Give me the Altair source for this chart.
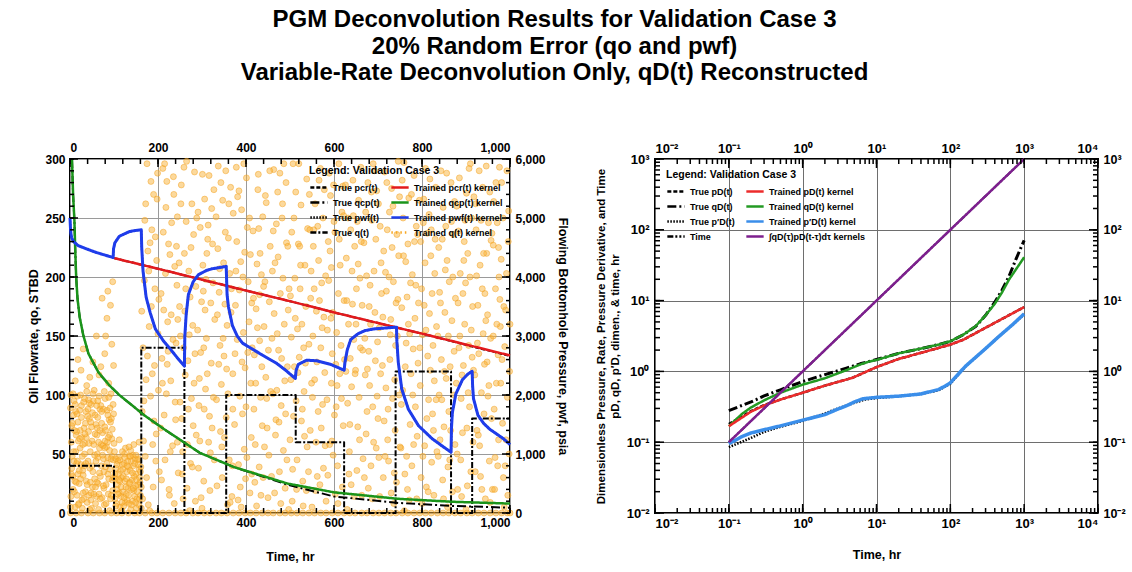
import altair as alt
import pandas as pd

FONT = "Liberation Sans"

# ---------------- LEFT PANEL DATA ----------------
# True q(t) rate schedule, STBD
qtrue_t = [0, 100, 100, 162, 162, 260, 260, 355, 355, 513, 513, 623, 623, 740, 740, 866, 866, 914, 914, 1000]
qtrue_v = [40, 40, 0, 0, 140, 140, 0, 0, 100, 100, 60, 60, 0, 0, 120, 120, 0, 0, 80, 80]

# q_cp(t): trained kernel and true
qcp_t = [4.5, 7, 10, 12, 14, 17, 22, 30, 42, 65, 90, 112, 142, 168, 218, 295, 372, 494, 600, 747, 870, 1000]
qcp_trained = [300, 270, 248, 222, 200, 182, 166, 151, 135, 119, 108, 100, 91, 83, 70, 51, 39, 25, 17.5, 12, 9.5, 8]
qcp_true = [300, 270, 248, 222, 200, 182, 166, 151, 135, 119, 108, 100, 91, 83, 70, 51, 39, 24, 14, 8.5, 6, 4.5]

# p_cr(t), psia
pcr_t = [100, 200, 300, 400, 500, 600, 700, 800, 900, 1000]
pcr_trained = [4320, 4140, 3955, 3770, 3590, 3400, 3220, 3040, 2855, 2670]
pcr_true = [4320, 4140, 3955, 3770, 3590, 3400, 3220, 3040, 2850, 2660]

# p_wf(t), psia
pwf_t = [0, 1, 2, 4, 8, 19, 40, 58, 80, 98, 99, 102, 112, 135, 150, 162,
         163, 166, 173, 182, 194, 212, 230, 245, 260,
         261, 264, 269, 280, 292, 310, 323, 340, 355,
         357, 360, 369, 380, 392, 423, 450, 469, 490, 512,
         514, 519, 538, 561, 592, 623,
         625, 630, 638, 655, 670, 690, 708, 742,
         743, 746, 754, 769, 792, 823, 845, 866,
         867, 869, 877, 892, 905, 914,
         915, 917, 927, 940, 954, 985, 1000]
pwf_trained = [5000, 4840, 4740, 4660, 4600, 4530, 4470, 4420, 4370, 4330, 4480, 4580, 4690, 4770, 4790, 4800,
               4500, 4100, 3660, 3400, 3120, 2920, 2760, 2620, 2490,
               3000, 3360, 3700, 3920, 4040, 4110, 4140, 4160, 4180,
               3700, 3500, 3180, 3000, 2880, 2740, 2620, 2540, 2420, 2280,
               2420, 2520, 2590, 2580, 2520, 2420,
               2560, 2760, 2940, 3040, 3090, 3120, 3130, 3150,
               2900, 2560, 2100, 1760, 1480, 1260, 1140, 1030,
               1440, 1700, 2020, 2260, 2360, 2400,
               2160, 1940, 1660, 1520, 1420, 1260, 1160]
pwf_true = list(pwf_trained)

# Trained q(t) kernel scatter (t hr, q STBD)
dots_early = [(2,14),(5,48),(8,83),(11,27),(14,66),(17,99),(20,8),(23,55),(26,91),(29,36),(32,72),(35,18),(38,103),
              (41,44),(44,80),(47,11),(50,61),(53,95),(56,29),(59,75),(62,50),(65,3),(68,88),(71,40),(74,68),(77,21),
              (80,97),(83,56),(86,33),(89,79),(92,12),(95,63),(98,45),
              (3,60),(6,31),(9,95),(12,5),(15,42),(18,77),(21,25),(24,100),(27,64),(30,17),(33,50),(36,86),(39,9),
              (42,69),(45,38),(48,92),(51,22),(54,58),(57,83),(60,14),(63,47),(66,99),(69,31),(72,76),(75,57),(78,7),
              (81,39),(84,87),(87,16),(90,66),(93,101),(96,28),(99,84),
              (1,89),(4,38),(7,20),(10,70),(13,52),(16,15),(19,61),(22,87),(25,41),(28,4),(31,94),(34,59),(37,27),
              (40,82),(43,15),(46,52),(49,73),(52,35),(55,104),(58,8),(61,66),(64,25),(67,55),(70,91),(73,13),(76,46),
              (79,73),(82,24),(85,60),(88,98),(91,37),(94,80),(97,19),(100,59),
              (4,74),(9,44),(13,86),(18,33),(23,70),(27,11),(32,40),(37,64),(42,96),(46,26),(51,85),(56,49),(61,91),
              (66,16),(71,58),(76,88),(81,70),(86,47),(91,89),(96,71),(7,101),(21,36),(35,76),(49,4),(63,81),(77,35),(90,2),
              (1,5),(3,33),(6,76),(8,52),(10,18),(12,92),(15,69),(17,44),(19,7),(22,63),(24,29),(26,81),(28,48),(31,12),
              (33,97),(34,67),(36,42),(39,24),(41,88),(43,59),(45,3),(47,77),(50,40),(52,101),(54,16),(57,67),(59,44),
              (61,26),(63,95),(65,60),(67,34),(69,12),(72,86),(74,49),(76,23),(78,103),(80,61),(82,8),(84,42),(86,83),
              (88,29),(90,53),(92,77),(94,15),(96,48),(98,92),(99,30),(2,100),(14,26),(29,58),(44,93),(58,22),(62,72),
              (79,55),(87,64),(93,46),(16,84),(30,32),(48,17),(68,70),
              (12,112),(25,121),(38,108),(52,128),(66,117),(79,135),(88,110),(95,143),(30,139),(60,150),(84,165),
              (73,182),(92,176),(97,196),(81,150),(45,115),(70,124),(99,125),(86,188),(18,130)]
dots_mid = [(102,12),(105,38),(108,24),(111,47),(114,5),(117,30),(120,18),(123,42),(126,9),(129,35),(132,21),(135,48),
            (138,3),(141,28),(144,40),(147,14),(150,33),(153,45),(156,7),(159,26),(161,39),
            (103,29),(106,8),(109,44),(112,17),(115,36),(118,2),(121,31),(124,50),(127,22),(130,11),(133,39),(136,26),
            (139,44),(142,10),(145,19),(148,46),(151,4),(154,24),(157,37),(160,15),
            (104,46),(107,20),(110,33),(113,27),(116,14),(119,41),(122,6),(125,27),(128,16),(131,44),(134,8),(137,36),
            (140,20),(143,49),(146,31),(149,23),(152,12),(155,41),(158,30),(162,22),
            (101,52),(126,55),(145,58),(112,62),(138,53),(157,60),
            (102,33),(104,6),(107,41),(109,16),(111,28),(113,45),(116,22),(118,9),(120,37),(123,13),(125,47),(128,29),
            (130,40),(133,15),(135,25),(137,48),(140,7),(142,34),(144,21),(147,42),(149,9),(151,28),(153,18),(156,46),
            (158,12),(160,35),(162,4),(119,52),(134,56),(150,49)]
dots_late = [(165,12),(171,48),(168,95),(176,133),(163,171),(179,205),(170,248),(184,281),(189,22),(196,67),(187,118),
             (200,152),(193,190),(182,229),(198,266),(175,296),(191,78),(166,140),(203,35),(185,175),(197,214),(172,262),
             (188,58),(201,104),(178,7),
             (208,28),(214,83),(221,126),(230,168),(238,209),(244,251),(211,292),(226,15),(233,57),(219,101),(241,144),
             (207,186),(224,228),(236,270),(216,45),(229,112),(243,193),(212,238),(235,285),(222,162),(240,79),(209,131),
             (227,219),(246,34),(218,259),
             (250,94),(258,140),(266,21),(273,183),(281,236),(287,66),(253,278),(262,117),(270,205),(279,159),(285,10),
             (256,52),(264,247),(276,97),(283,289),(249,175),(268,129),(260,220),(286,192),(274,42),(252,262),(280,74),
             (265,298),(271,151),(257,12),
             (292,38),(299,179),(305,88),(313,232),(321,127),(327,274),(295,61),(302,210),(310,148),(318,19),(325,195),
             (291,255),(308,105),(316,286),(323,72),(297,136),(314,244),(329,164),(300,4),(311,220),(319,51),(294,114),
             (306,266),(326,98),(303,188),
             (334,23),(341,142),(347,265),(355,81),(363,203),(370,118),(337,294),(345,56),(352,177),(360,233),(368,14),
             (333,96),(349,212),(357,159),(365,276),(339,187),(344,109),(362,45),(371,254),(336,224),(350,133),(358,7),
             (366,170),(342,69),(354,290),
             (376,176),(383,41),(390,257),(398,123),(405,196),(412,64),(379,230),(386,99),(394,153),(401,284),(409,17),
             (375,135),(388,213),(396,54),(403,242),(411,110),(381,268),(392,84),(399,29),(407,162),(378,293),(385,189),
             (397,221),(414,140),(389,5),
             (418,88),(425,211),(431,146),(439,30),(446,263),(453,179),(421,58),(428,287),(436,124),(443,196),(450,13),
             (416,239),(433,98),(441,158),(448,72),(455,226),(423,173),(430,39),(438,251),(445,115),(419,134),(427,274),
             (435,202),(452,49),(424,6),
             (460,205),(467,66),(474,138),(482,250),(489,21),(496,172),(463,291),(470,104),(478,186),(485,53),(492,229),
             (459,148),(465,17),(472,272),(480,91),(487,160),(494,124),(462,239),(476,35),(484,199),(491,280),(468,79),
             (497,3),(473,217),(488,112),
             (502,113),(509,250),(516,45),(523,190),(531,140),(538,283),(505,10),(512,165),(519,228),(526,78),(534,210),
             (500,62),(507,296),(514,95),(521,132),(529,27),(536,175),(504,238),(511,199),(525,261),(532,103),(539,56),
             (517,156),(530,6),(508,82),
             (544,270),(551,98),(558,19),(565,214),(573,157),(580,57),(547,182),(554,240),(561,128),(569,292),(576,38),
             (543,143),(550,5),(557,262),(564,86),(572,195),(579,119),(546,70),(553,226),(560,171),(568,24),(575,250),
             (581,201),(549,110),(566,282),
             (586,32),(593,165),(600,247),(607,108),(614,210),(621,74),(589,288),(596,135),(603,16),(610,186),(618,255),
             (584,96),(591,222),(598,49),(606,153),(613,118),(620,277),(588,197),(595,61),(602,238),(609,8),(616,142),
             (623,180),(592,269),(605,90),
             (628,216),(635,52),(642,177),(649,121),(656,265),(663,15),(631,93),(638,240),(645,147),(652,36),(659,199),
             (626,278),(633,160),(640,107),(647,226),(654,73),(661,293),(630,3),(637,131),(644,252),(651,190),(658,62),
             (665,138),(639,24),(655,211),
             (670,148),(677,280),(684,40),(691,205),(698,99),(705,243),(673,67),(680,175),(687,12),(694,129),(701,262),
             (668,229),(675,86),(682,193),(689,296),(696,55),(703,157),(671,117),(678,21),(686,248),(693,170),(700,80),
             (707,212),(679,137),(697,273),
             (712,30),(719,188),(726,255),(733,97),(740,142),(747,218),(715,289),(722,62),(729,164),(736,8),(743,236),
             (710,125),(717,204),(724,44),(731,275),(738,113),(745,181),(714,78),(721,240),(728,151),(735,196),(742,26),
             (749,268),(718,106),(732,225),
             (754,174),(761,33),(768,228),(775,118),(782,286),(789,65),(757,250),(764,144),(771,11),(778,202),(785,90),
             (752,55),(759,297),(766,183),(773,75),(780,139),(787,243),(756,104),(763,213),(770,267),(777,40),(784,165),
             (791,127),(760,2),(774,195),
             (796,108),(803,246),(810,22),(817,169),(824,84),(831,276),(799,190),(806,57),(813,133),(820,218),(827,15),
             (794,265),(801,151),(808,292),(815,96),(822,43),(829,203),(798,30),(805,176),(812,237),(819,121),(826,70),
             (833,158),(800,8),(816,253),
             (838,225),(845,96),(852,170),(859,39),(866,280),(873,137),(841,62),(848,259),(855,114),(862,196),(869,18),
             (836,150),(843,290),(850,73),(857,214),(864,124),(871,236),(840,187),(847,28),(854,243),(861,86),(868,163),
             (875,58),(844,130),(858,5),
             (880,50),(887,203),(894,125),(901,271),(908,90),(915,175),(883,239),(890,14),(897,160),(904,220),(911,35),
             (878,110),(885,284),(892,68),(899,195),(906,142),(913,250),(882,178),(889,97),(896,230),(903,23),(910,296),
             (917,121),(886,150),(900,3),
             (922,262),(929,135),(936,20),(943,186),(950,99),(957,231),(925,70),(932,210),(939,152),(946,294),(953,44),
             (920,117),(927,176),(934,248),(941,84),(948,128),(955,9),(924,201),(931,57),(938,276),(945,163),(952,108),
             (959,237),(933,31),(947,220),
             (964,88),(971,246),(978,158),(985,30),(992,203),(999,120),(967,190),(974,62),(981,280),(988,141),(995,15),
             (962,227),(969,110),(976,293),(983,76),(990,172),(997,256),(966,47),(973,134),(980,215),(987,5),(994,98),
             (963,264),(977,181),(989,40)]
dots_late_b = [(164,86),(169,197),(174,30),(180,158),(186,240),(192,125),(199,288),(167,61),(177,222),(183,99),
               (190,270),(195,44),(202,181),(173,113),(181,2),(194,234),
               (206,72),(213,172),(220,281),(228,52),(234,147),(242,226),(210,110),(217,203),(225,20),(231,246),
               (239,94),(245,164),(215,296),(223,137),(237,8),(244,60),
               (248,212),(255,33),(261,171),(269,88),(277,262),(284,135),(251,150),(259,293),(267,58),(275,225),
               (282,110),(288,250),(254,80),(263,190),(272,2),(278,39),
               (290,155),(296,242),(304,27),(309,198),(317,82),(324,228),(328,45),(293,91),(301,287),(307,172),
               (315,60),(322,258),(298,13),(312,118),(320,178),(304,140),
               (332,251),(338,126),(346,30),(353,238),(359,101),(367,190),(335,168),(343,280),(351,64),(356,122),
               (364,9),(370,88),(340,207),(348,148),(361,262),(369,40),
               (374,75),(380,147),(387,22),(393,200),(400,90),(408,250),(413,178),(377,205),(384,273),(391,128),
               (402,47),(410,219),(382,11),(395,296),(404,136),(413,33),
               (417,182),(422,110),(429,241),(434,15),(440,192),(447,97),(454,290),(420,26),(426,157),(432,220),
               (437,74),(444,269),(451,138),(456,103),(431,185),(442,56),
               (458,31),(464,169),(469,245),(475,77),(481,131),(486,296),(493,45),(498,190),(461,101),(466,212),
               (471,152),(479,8),(483,262),(490,84),(495,226),(477,288),
               (501,184),(506,37),(513,272),(518,119),(522,226),(527,160),(533,65),(540,241),(503,149),(510,124),
               (515,20),(520,296),(528,88),(535,127),(537,19),(524,210),
               (542,35),(548,205),(552,150),(559,60),(563,243),(567,180),(574,92),(578,274),(582,10),(545,240),
               (556,113),(562,31),(570,140),(577,166),(555,190),(571,72),
               (585,155),(590,58),(594,208),(599,278),(604,126),(608,40),(612,232),(617,97),(622,252),(587,230),
               (597,170),(601,83),(611,296),(619,22),(624,130),(594,110),
               (627,120),(632,250),(636,75),(641,205),(646,14),(650,160),(657,98),(662,230),(666,46),(629,180),
               (634,33),(643,282),(648,118),(653,247),(660,140),(664,176),
               (669,30),(674,201),(681,108),(685,272),(690,60),(695,232),(699,145),(704,14),(708,186),(672,255),
               (676,122),(683,160),(688,90),(692,290),(702,47),(706,118),
               (711,166),(716,48),(720,280),(727,130),(730,17),(734,260),(739,70),(744,150),(748,100),(713,222),
               (723,88),(725,200),(737,34),(741,178),(746,298),(750,56),
               (753,92),(758,218),(762,124),(767,20),(772,152),(776,270),(781,58),(786,193),(790,236),(755,282),
               (765,48),(769,160),(779,100),(783,230),(788,12),(792,178),
               (795,140),(802,48),(807,212),(811,80),(818,283),(823,186),(828,112),(834,52),(797,230),(804,266),
               (809,155),(814,18),(821,240),(825,142),(830,232),(832,96),
               (837,48),(842,178),(846,232),(851,120),(856,288),(860,150),(865,70),(870,200),(874,264),(839,100),
               (849,12),(853,206),(863,45),(867,247),(872,100),(876,182),
               (879,260),(884,140),(888,45),(893,186),(898,248),(902,72),(907,292),(912,155),(916,60),(881,20),
               (891,117),(895,214),(905,102),(909,200),(914,132),(918,268),
               (921,35),(926,144),(930,290),(935,102),(940,220),(944,12),(949,168),(954,272),(958,80),(923,240),
               (928,66),(937,190),(942,126),(951,246),(956,148),(960,20),
               (962,150),(968,280),(972,40),(975,200),(979,110),(984,250),(986,175),(991,62),(996,230),(1000,160),
               (965,20),(970,160),(982,130),(993,290),(998,50),(974,225)]
dots_zero_t = [1, 14, 26, 41, 53, 67, 79, 94, 106, 118, 133, 147, 158, 171, 186, 198, 211, 225, 239, 252, 264, 279,
               291, 305, 318, 332, 344, 357, 371, 384, 398, 410, 423, 437, 450, 462, 477, 489, 503, 516, 529, 543, 556,
               570, 582, 596, 609, 623, 636, 648, 663, 675, 689, 702, 715, 729, 741, 755, 768, 782, 795, 808, 821, 835,
               848, 861, 875, 888, 902, 914, 928, 941, 955, 968, 981, 994, 1000]

# ---------------- RIGHT PANEL DATA ----------------
time_t = [0.1, 1, 10, 100, 1000]
conv_v = [0.1, 1, 10, 100, 1000]

qD_trained_t = [0.1, 0.15, 0.2, 0.3, 0.5, 1, 2, 4, 6, 8, 10, 20, 40, 70, 100, 150, 220, 300, 400, 500, 623, 800, 1000]
qD_trained = [0.168, 0.25, 0.31, 0.39, 0.5, 0.65, 0.8, 1.05, 1.25, 1.38, 1.45, 1.8, 2.1, 2.4, 2.67, 3.3, 4.35, 6.2, 9, 13, 19.8, 29, 41]
qD_true_t = [0.1, 0.2, 0.3, 0.5, 1, 2, 4, 6, 10, 20, 40, 70, 100, 150, 220, 300, 400, 500, 623, 770, 1000]
qD_true = [0.28, 0.37, 0.45, 0.55, 0.72, 0.9, 1.12, 1.28, 1.47, 1.8, 2.1, 2.4, 2.65, 3.3, 4.3, 6.2, 9.5, 14, 22, 38, 71]

pD_t = [0.1, 0.2, 0.3, 0.5, 1, 2, 4.7, 10, 20, 50, 100, 150, 270, 500, 1000]
pD_trained = [0.168, 0.27, 0.33, 0.4, 0.5, 0.63, 0.81, 1.15, 1.5, 1.95, 2.39, 2.8, 3.9, 5.5, 8.1]
pD_true = [0.18, 0.275, 0.335, 0.4, 0.5, 0.63, 0.81, 1.15, 1.5, 1.95, 2.39, 2.8, 3.9, 5.5, 8.1]

dpD_trained_t = [0.1, 0.15, 0.2, 0.3, 0.5, 1, 2, 2.8, 4, 5, 6.5, 8, 10, 20, 40, 69, 85, 100, 160, 300, 457, 700, 1000]
dpD_trained = [0.095, 0.12, 0.135, 0.15, 0.17, 0.205, 0.245, 0.285, 0.33, 0.37, 0.41, 0.42, 0.43, 0.447, 0.48, 0.555, 0.62, 0.69, 1.18, 2.1, 3.13, 4.6, 6.5]
dpD_true_t = [0.1, 0.2, 0.3, 0.5, 1, 2, 3, 5, 7, 10, 20, 40, 69, 100, 160, 300, 457, 700, 1000]
dpD_true = [0.085, 0.115, 0.14, 0.165, 0.2, 0.255, 0.3, 0.36, 0.4, 0.42, 0.445, 0.48, 0.54, 0.67, 1.17, 2.1, 3.13, 4.6, 6.4]

# ---------------- helpers ----------------
def sdf(name, t, v):
    return pd.DataFrame({"t": t, "v": v, "series": name, "ord": list(range(len(t)))})


def line(df, enc_common, width, yexpr=None):
    ch = alt.Chart(df)
    if yexpr:
        ch = ch.transform_calculate(yv=yexpr)
    return ch.mark_line(strokeWidth=width, strokeJoin="round").encode(**enc_common)


def ticks(values, channel, scale, side, length, W, H):
    df = pd.DataFrame({"v": values})
    base = alt.Chart(df).mark_rule(color="black", strokeWidth=1.5)
    if channel == "x":
        enc = dict(x=alt.X("v:Q", scale=scale, axis=None))
        if side == "bottom":
            enc.update(y=alt.value(H), y2=alt.value(H - length))
        else:
            enc.update(y=alt.value(0), y2=alt.value(length))
    else:
        enc = dict(y=alt.Y("v:Q", scale=scale, axis=None))
        if side == "left":
            enc.update(x=alt.value(0), x2=alt.value(length))
        else:
            enc.update(x=alt.value(W), x2=alt.value(W - length))
    return base.encode(**enc)

COMMA = "format(datum.value, ',')"

# ---------------- LEFT PANEL ----------------
WL, HL = 440, 354
xL = alt.Scale(domain=[0, 1000], nice=False, zero=False)
yL = alt.Scale(domain=[0, 300], nice=False, zero=False)

# legend fills column by column: first column "True", second column "Trained"
left_names = ["True pcr(t)", "True qcp(t)", "True pwf(t)", "True q(t)",
              "Trained pcr(t) kernel", "Trained qcp(t) kernel", "Trained pwf(t) kernel", "Trained q(t) kernel"]
left_colors = ["#000000", "#000000", "#000000", "#000000", "#E3191C", "#1A941A", "#1E3CEB", "#F7A823"]
left_dash = [[4, 2], [9, 3, 2, 3], [1.5, 1.5], [6, 2, 2, 2], [1, 0], [1, 0], [1, 0], [1.5, 3]]

legL = alt.Legend(title="Legend: Validation Case 3", orient="top-right", columns=2, offset=5)
colL = alt.Color("series:N", scale=alt.Scale(domain=left_names, range=left_colors), legend=legL)
dashL = alt.StrokeDash("series:N", scale=alt.Scale(domain=left_names, range=left_dash), legend=legL)


def encL(yfield):
    return dict(x=alt.X("t:Q", scale=xL, axis=None), y=alt.Y(yfield, scale=yL, axis=None),
                color=colL, strokeDash=dashL, order="ord:Q")

pts = dots_early + dots_mid + dots_late + dots_late_b + [(t, 0) for t in dots_zero_t]
scatter_df = pd.DataFrame({"t": [p[0] for p in pts], "q": [p[1] for p in pts]})

scatter = alt.Chart(scatter_df).mark_point(
    filled=True, size=36, fill="#F9B43A", fillOpacity=0.5, stroke="#F2A11E", strokeOpacity=0.6, strokeWidth=0.8
).encode(
    x=alt.X("t:Q", scale=xL, axis=alt.Axis(orient="bottom", values=list(range(0, 1001, 200)), labelExpr=COMMA,
                                           title="Time, hr", grid=True, gridColor="#9a9a9a", gridWidth=1,
                                           labelPadding=4, titlePadding=22)),
    y=alt.Y("q:Q", scale=yL, axis=alt.Axis(orient="left", values=list(range(0, 301, 50)), labelExpr=COMMA,
                                           title="Oil Flowrate, qo, STBD", grid=True, gridColor="#9a9a9a",
                                           gridWidth=1, labelPadding=5, titlePadding=4)),
)

qtrue_l = line(sdf("True q(t)", qtrue_t, qtrue_v), encL("v:Q"), 2)
qcp_true_l = line(sdf("True qcp(t)", qcp_t, qcp_true), encL("v:Q"), 2)
qcp_tr_l = line(sdf("Trained qcp(t) kernel", qcp_t, qcp_trained), encL("v:Q"), 2.5)
pcr_true_l = line(sdf("True pcr(t)", pcr_t, pcr_true), encL("yv:Q"), 2, "datum.v / 20")
pcr_tr_l = line(sdf("Trained pcr(t) kernel", pcr_t, pcr_trained), encL("yv:Q"), 2.5, "datum.v / 20")
pwf_true_l = line(sdf("True pwf(t)", pwf_t, pwf_true), encL("yv:Q"), 2, "datum.v / 20")
enc_pwf = encL("yv:Q")
enc_pwf["y"] = alt.Y("yv:Q", scale=yL, axis=alt.Axis(
    orient="right", values=list(range(0, 301, 50)), labelExpr="format(datum.value * 20, ',')",
    title="Flowing Bottomhole Pressure, pwf, psia", grid=False, labelPadding=5, titlePadding=10))
pwf_tr_l = line(sdf("Trained pwf(t) kernel", pwf_t, pwf_trained), enc_pwf, 3, "datum.v / 20")

# top axis carrier (major ticks on the top edge)
top_axis_L = alt.Chart(pd.DataFrame({"v": list(range(0, 1001, 200))})).mark_rule(
    color="black", strokeWidth=1.5).encode(
    x=alt.X("v:Q", scale=xL, axis=alt.Axis(orient="top", values=list(range(0, 1001, 200)), labelExpr=COMMA,
                                           title=None, grid=False, labelPadding=5)),
    y=alt.value(0), y2=alt.value(8))

tL = [
    ticks(list(range(0, 1001, 40)), "x", xL, "bottom", 5, WL, HL),
    ticks(list(range(0, 1001, 200)), "x", xL, "bottom", 8, WL, HL),
    ticks(list(range(0, 1001, 40)), "x", xL, "top", 5, WL, HL),
    ticks(list(range(0, 301, 10)), "y", yL, "left", 4, WL, HL),
    ticks(list(range(0, 301, 50)), "y", yL, "left", 8, WL, HL),
    ticks(list(range(0, 301, 10)), "y", yL, "right", 4, WL, HL),
    ticks(list(range(0, 301, 50)), "y", yL, "right", 8, WL, HL),
]

left = alt.layer(
    scatter, qtrue_l, qcp_true_l, qcp_tr_l, pcr_true_l, pcr_tr_l, pwf_true_l, pwf_tr_l, top_axis_L, *tL
).resolve_axis(x="independent", y="independent").properties(width=WL, height=HL)

# ---------------- RIGHT PANEL ----------------
WR, HR = 443, 354
xR = alt.Scale(type="log", domain=[0.01, 10000], nice=False)
yR = alt.Scale(type="log", domain=[0.01, 1000], nice=False)

right_names = ["True pD(t)", "True qD(t)", "True p′D(t)", "Time",
               "Trained pD(t) kernel", "Trained qD(t) kernel", "Trained p′D(t) kernel", "∫qD(τ)pD(t-τ)dτ kernels"]
right_colors = ["#000000", "#000000", "#000000", "#000000", "#EC2B2B", "#239A23", "#3A8EEA", "#7D1F8E"]
right_dash = [[4, 2], [9, 3, 2, 3], [1.5, 1.5], [6, 2, 2, 2, 2, 2], [1, 0], [1, 0], [1, 0], [1, 0]]

legR = alt.Legend(title="Legend: Validation Case 3", orient="top-left", columns=2, offset=9)
colR = alt.Color("series:N", scale=alt.Scale(domain=right_names, range=right_colors), legend=legR)
dashR = alt.StrokeDash("series:N", scale=alt.Scale(domain=right_names, range=right_dash), legend=legR)

sup = ("datum.value < 0.05 ? '10⁻²' : datum.value < 0.5 ? '10⁻¹' : datum.value < 5 ? '10⁰' : "
       "datum.value < 50 ? '10¹' : datum.value < 500 ? '10²' : datum.value < 5000 ? '10³' : '10⁴'")
decX = [0.01, 0.1, 1, 10, 100, 1000, 10000]
decY = [0.01, 0.1, 1, 10, 100, 1000]


def encR(xaxis=None, yaxis=None):
    return dict(x=alt.X("t:Q", scale=xR, axis=xaxis), y=alt.Y("v:Q", scale=yR, axis=yaxis),
                color=colR, strokeDash=dashR, order="ord:Q")

time_l = line(sdf("Time", time_t, conv_v), encR(
    alt.Axis(orient="bottom", values=decX, labelExpr=sup, title="Time, hr", grid=True, gridColor="#6e6e6e",
             gridWidth=1, labelPadding=4, titlePadding=18, labelFontSize=13),
    alt.Axis(orient="left", values=decY, labelExpr=sup, grid=True, gridColor="#6e6e6e", gridWidth=1,
             labelPadding=6, titlePadding=6, titleFontSize=11.5, titleLineHeight=14, labelFontSize=13,
             title=["Dimensionless Pressure, Rate, Pressure Derivative, and Time",
                    "pD, qD, p′D, dimen., & time, hr"])), 2)
pD_true_l = line(sdf("True pD(t)", pD_t, pD_true), encR(), 2.5)
qD_true_l = line(sdf("True qD(t)", qD_true_t, qD_true), encR(), 3)
dpD_true_l = line(sdf("True p′D(t)", dpD_true_t, dpD_true), encR(), 2.5)
qD_tr_l = line(sdf("Trained qD(t) kernel", qD_trained_t, qD_trained), encR(), 2.5)
pD_tr_l = line(sdf("Trained pD(t) kernel", pD_t, pD_trained), encR(), 2.5)
dpD_tr_l = line(sdf("Trained p′D(t) kernel", dpD_trained_t, dpD_trained), encR(), 3.5)
conv_l = line(sdf("∫qD(τ)pD(t-τ)dτ kernels", time_t, conv_v), encR(), 2.5)

minor_x = [m * 10.0 ** e for e in range(-2, 4) for m in range(1, 10)] + [10000]
minor_y = [m * 10.0 ** e for e in range(-2, 3) for m in range(1, 10)] + [1000]

top_axis_R = alt.Chart(pd.DataFrame({"v": decX})).mark_rule(color="black", strokeWidth=1.5).encode(
    x=alt.X("v:Q", scale=xR, axis=alt.Axis(orient="top", values=decX, labelExpr=sup, title=None, grid=False,
                                           labelPadding=4, labelFontSize=13)),
    y=alt.value(0), y2=alt.value(9))
right_axis_R = alt.Chart(pd.DataFrame({"v": decY})).mark_rule(color="black", strokeWidth=1.5).encode(
    y=alt.Y("v:Q", scale=yR, axis=alt.Axis(orient="right", values=decY, labelExpr=sup, title=None, grid=False,
                                           labelPadding=5, labelFontSize=12.5)),
    x=alt.value(WR), x2=alt.value(WR - 9))

tR = [
    ticks(minor_x, "x", xR, "bottom", 5, WR, HR),
    ticks(decX, "x", xR, "bottom", 9, WR, HR),
    ticks(minor_x, "x", xR, "top", 5, WR, HR),
    ticks(minor_y, "y", yR, "left", 5, WR, HR),
    ticks(decY, "y", yR, "left", 9, WR, HR),
    ticks(minor_y, "y", yR, "right", 5, WR, HR),
]

right = alt.layer(
    time_l, pD_true_l, qD_true_l, dpD_true_l, qD_tr_l, pD_tr_l, dpD_tr_l, conv_l, top_axis_R, right_axis_R, *tR
).resolve_axis(x="independent", y="independent").properties(width=WR, height=HR)

chart = alt.hconcat(left, right, spacing=24).resolve_scale(
    color="independent", strokeDash="independent"
).properties(
    title=alt.Title(
        text=["PGM Deconvolution Results for Validation Case 3",
              "20% Random Error (qo and pwf)",
              "Variable-Rate Deconvolution Only, qD(t) Reconstructed"],
        font=FONT, fontSize=24, fontWeight="bold", color="black", anchor="middle", lineHeight=26.5,
        offset=55, dx=-22),
    padding={"left": 26, "right": 1, "top": 8, "bottom": 2},
).configure_view(
    stroke="black", strokeWidth=2
).configure_axis(
    labelFont=FONT, labelFontSize=12, labelFontWeight="bold", labelColor="black",
    titleFont=FONT, titleFontSize=12.5, titleFontWeight="bold", titleColor="black",
    domain=False, ticks=False
).configure_legend(
    labelFont=FONT, labelFontSize=9, labelFontWeight="bold", labelColor="black",
    titleFont=FONT, titleFontSize=10.5, titleFontWeight="bold", titleColor="black",
    symbolType="stroke", symbolSize=300, symbolStrokeWidth=2.5, rowPadding=-4, columnPadding=6,
    labelOffset=4, padding=2, titlePadding=1, labelLimit=220
)

chart.save("out.html", embed_options={"renderer": "svg", "actions": False})
